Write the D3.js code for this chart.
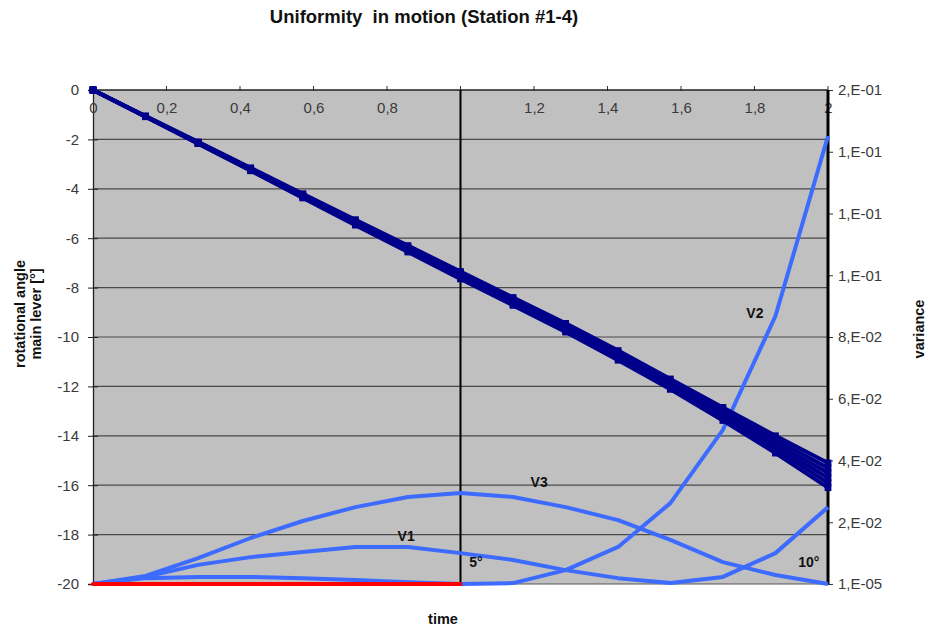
<!DOCTYPE html>
<html>
<head>
<meta charset="utf-8">
<script src="https://cdn.jsdelivr.net/npm/d3@7"></script>
<style>
  html, body { margin: 0; padding: 0; background: #fff; }
  svg { display: block; font-family: "Liberation Sans", Arial, sans-serif; }
</style>
</head>
<body>
<svg id="chart" width="927" height="628"></svg>
<script>
// time steps (s)
const times = [0, 0.143, 0.286, 0.429, 0.571, 0.714, 0.857, 1, 1.143, 1.286, 1.429, 1.571, 1.714, 1.857, 2];

// rotational angle of the main lever per station run [°]
const station1 = [0, -1.05, -2.10, -3.15, -4.20, -5.25, -6.30, -7.35, -8.40, -9.45, -10.55, -11.70, -12.85, -14.00, -15.10];
const station2 = [0, -1.06, -2.12, -3.18, -4.25, -5.30, -6.36, -7.42, -8.48, -9.55, -10.65, -11.80, -12.95, -14.15, -15.30];
const station3 = [0, -1.07, -2.14, -3.21, -4.28, -5.35, -6.42, -7.48, -8.55, -9.62, -10.72, -11.88, -13.05, -14.30, -15.50];
const station4 = [0, -1.07, -2.15, -3.23, -4.31, -5.39, -6.47, -7.54, -8.60, -9.68, -10.80, -11.96, -13.15, -14.42, -15.70];
const station5 = [0, -1.08, -2.16, -3.25, -4.34, -5.43, -6.52, -7.60, -8.66, -9.74, -10.87, -12.04, -13.26, -14.55, -15.90];
const station6 = [0, -1.08, -2.17, -3.27, -4.37, -5.47, -6.56, -7.65, -8.72, -9.80, -10.94, -12.12, -13.38, -14.70, -16.10];
const stations = [station1, station2, station3, station4, station5, station6];

// variance curves (right axis)
const varV1 = [0, 0.0023, 0.0062, 0.0087, 0.0104, 0.0120, 0.0120, 0.0100, 0.0078, 0.0045, 0.0019, 0.0003, 0.0023, 0.0100, 0.0249];
const varV2 = [0, 0.0019, 0.0023, 0.0023, 0.0019, 0.0013, 0.0006, 0.0000, 0.0003, 0.0045, 0.0120, 0.0262, 0.0499, 0.0868, 0.1451];
const varV3 = [0, 0.0026, 0.0084, 0.0149, 0.0204, 0.0249, 0.0282, 0.0295, 0.0282, 0.0249, 0.0207, 0.0143, 0.0071, 0.0029, 0.00001];
// reference variance over the first interval
const varRef = [0, 0, 0, 0, 0, 0, 0, 0];

// axis ticks (the "1" position sits under the interval marker)
const xTicks = [0, 0.2, 0.4, 0.6, 0.8, 1, 1.2, 1.4, 1.6, 1.8, 2];
const xTickLabels = ["0", "0,2", "0,4", "0,6", "0,8", "", "1,2", "1,4", "1,6", "1,8", "2"];
const yTicks = [0, -2, -4, -6, -8, -10, -12, -14, -16, -18, -20];
const y2Ticks = [0.16, 0.14, 0.12, 0.10, 0.08, 0.06, 0.04, 0.02, 0.00001];
const y2TickLabels = ["2,E-01", "1,E-01", "1,E-01", "1,E-01", "8,E-02", "6,E-02", "4,E-02", "2,E-02", "1,E-05"];

// curve labels
const curveLabels = [
  {text: "V1", t: 0.852, v: 0.0140},
  {text: "V2", t: 1.801, v: 0.0862},
  {text: "V3", t: 1.214, v: 0.0314},
  {text: "5°", t: 1.042, v: 0.0055},
  {text: "10°", t: 1.948, v: 0.0055}
];

const svg = d3.select("#chart");
const plotL = 93, plotR = 828, plotT = 90, plotB = 584;
const tickFont = "15px";

const x = d3.scaleLinear().domain([0, 2]).range([plotL, plotR]);
const y = d3.scaleLinear().domain([-20, 0]).range([plotB, plotT]);
const y2 = d3.scaleLinear().domain([0, 0.16]).range([plotB, plotT]);

// plot area
svg.append("rect")
  .attr("x", plotL).attr("y", plotT)
  .attr("width", plotR - plotL).attr("height", plotB - plotT)
  .attr("fill", "#c0c0c0");

// horizontal gridlines
svg.append("g")
  .selectAll("line")
  .data(yTicks.filter(d => d !== 0 && d !== -20))
  .join("line")
  .attr("x1", plotL).attr("x2", plotR)
  .attr("y1", d => y(d)).attr("y2", d => y(d))
  .attr("stroke", "#4a4a4a").attr("stroke-width", 1.2);

// left axis
const yAxis = d3.axisLeft(y).tickValues(yTicks).tickSize(5).tickPadding(9)
  .tickFormat(d => String(d));
const gy = svg.append("g").attr("transform", `translate(${plotL},0)`).call(yAxis);
gy.select(".domain").attr("stroke", "#222").attr("stroke-width", 1.3);
gy.selectAll(".tick line").attr("stroke", "#222").attr("x2", 5).attr("x1", -5);
gy.selectAll(".tick text").attr("fill", "#3a3a3a").style("font-size", tickFont).style("font-family", "Liberation Sans, Arial, sans-serif");

// right axis
const y2Axis = d3.axisRight(y2).tickValues(y2Ticks).tickSize(5).tickPadding(5)
  .tickFormat((d, i) => y2TickLabels[i]);
const gy2 = svg.append("g").attr("transform", `translate(${plotR},0)`).call(y2Axis);
gy2.select(".domain").remove();
gy2.selectAll(".tick line").attr("stroke", "#333");
gy2.selectAll(".tick text").attr("fill", "#3a3a3a").style("font-size", tickFont).style("font-family", "Liberation Sans, Arial, sans-serif");

// top time axis
const xAxis = d3.axisBottom(x).tickValues(xTicks).tickSize(0).tickPadding(12)
  .tickFormat((d, i) => xTickLabels[i]);
const gx = svg.append("g").attr("transform", `translate(0,${plotT})`).call(xAxis);
gx.select(".domain").remove();
gx.selectAll(".tick text").attr("fill", "#3a3a3a").style("font-size", tickFont).style("font-family", "Liberation Sans, Arial, sans-serif");
svg.append("g")
  .selectAll("line")
  .data(xTicks)
  .join("line")
  .attr("x1", d => x(d)).attr("x2", d => x(d))
  .attr("y1", plotT - 4).attr("y2", plotT + 1)
  .attr("stroke", "#333");
svg.append("line")
  .attr("x1", plotL).attr("x2", plotR).attr("y1", plotT).attr("y2", plotT)
  .attr("stroke", "#222").attr("stroke-width", 1.3);
svg.append("line")
  .attr("x1", plotL).attr("x2", plotR).attr("y1", plotB).attr("y2", plotB)
  .attr("stroke", "#555").attr("stroke-width", 1);

// interval markers at t = 1 and t = 2
svg.append("line")
  .attr("x1", x(1)).attr("x2", x(1)).attr("y1", plotT).attr("y2", plotB)
  .attr("stroke", "#000").attr("stroke-width", 2);
svg.append("line")
  .attr("x1", x(2)).attr("x2", x(2)).attr("y1", plotT).attr("y2", plotB)
  .attr("stroke", "#000").attr("stroke-width", 3);

// variance curves
const varLine = d3.line().x((d, i) => x(times[i])).y(d => y2(d));
svg.append("g")
  .selectAll("path")
  .data([varV3, varV1, varV2])
  .join("path")
  .attr("d", varLine)
  .attr("fill", "none")
  .attr("stroke", "#3d6bff")
  .attr("stroke-width", 4)
  .attr("stroke-linejoin", "round");

svg.append("path")
  .datum(varRef)
  .attr("d", varLine)
  .attr("fill", "none")
  .attr("stroke", "#ff0000")
  .attr("stroke-width", 4)
  .attr("stroke-linecap", "round");

// rotational angle per station
const angleLine = d3.line().x((d, i) => x(times[i])).y(d => y(d));
const gs = svg.append("g");
stations.forEach(s => {
  gs.append("path")
    .datum(s)
    .attr("d", angleLine)
    .attr("fill", "none")
    .attr("stroke", "#00008b")
    .attr("stroke-width", 4);
  gs.append("g")
    .selectAll("path")
    .data(s)
    .join("path")
    .attr("transform", (d, i) => `translate(${x(times[i])},${y(d)})`)
    .attr("d", d3.symbol(d3.symbolSquare, 46))
    .attr("fill", "#00008b");
});

// curve labels
svg.append("g")
  .selectAll("text")
  .data(curveLabels)
  .join("text")
  .attr("x", d => x(d.t))
  .attr("y", d => y2(d.v))
  .attr("text-anchor", "middle")
  .attr("fill", "#111")
  .style("font-size", "14px")
  .style("font-weight", "bold")
  .text(d => d.text);

// titles
svg.append("text")
  .attr("x", 424).attr("y", 23)
  .attr("text-anchor", "middle")
  .attr("fill", "#111")
  .style("font-size", "18.5px").style("font-weight", "bold")
  .style("white-space", "pre")
  .text("Uniformity  in motion (Station #1-4)");

svg.append("text")
  .attr("x", 443).attr("y", 624)
  .attr("text-anchor", "middle")
  .attr("fill", "#111")
  .style("font-size", "14.5px").style("font-weight", "bold")
  .text("time");

const yTitle = svg.append("text")
  .attr("transform", "translate(25,314) rotate(-90)")
  .attr("text-anchor", "middle")
  .attr("fill", "#111")
  .style("font-size", "14.5px").style("font-weight", "bold");
yTitle.append("tspan").attr("x", 0).attr("dy", 0).text("rotational angle");
yTitle.append("tspan").attr("x", 0).attr("dy", 16).text("main lever [°]");

svg.append("text")
  .attr("transform", "translate(924,329) rotate(-90)")
  .attr("text-anchor", "middle")
  .attr("fill", "#111")
  .style("font-size", "14.5px").style("font-weight", "bold")
  .text("variance");
</script>
</body>
</html>
